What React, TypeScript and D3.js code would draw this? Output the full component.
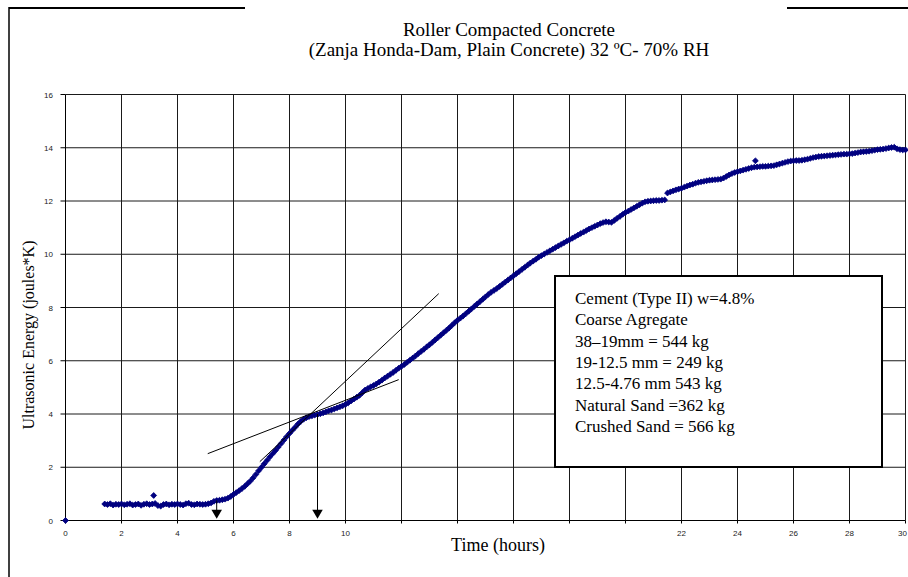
import React from "react";
import * as d3 from "d3";

// ---- data ----
const titleLines = ["Roller Compacted Concrete", "(Zanja Honda-Dam, Plain Concrete) 32 ºC- 70% RH"];
const xAxisTitle = "Time (hours)";
const yAxisTitle = "Ultrasonic Energy  (joules*K)";
const xTicks = [0, 2, 4, 6, 8, 10, 12, 14, 16, 18, 20, 22, 24, 26, 28, 30];
const xTickLabels = [0, 2, 4, 6, 8, 10, 22, 24, 26, 28, 30];
const yTicks = [0, 2, 4, 6, 8, 10, 12, 14, 16];

// measurements sampled every 0.1 h starting at 1.4 h
const sampleStart = 1.4;
const sampleStep = 0.1;
const energy = [
  0.62, 0.60, 0.63, 0.58, 0.61, 0.60,
  0.62, 0.59, 0.61, 0.63, 0.58, 0.60, 0.62, 0.57, 0.61, 0.63,
  0.60, 0.62, 0.64, 0.56, 0.54, 0.60, 0.62, 0.59, 0.61, 0.60,
  0.62, 0.60, 0.58, 0.63, 0.65, 0.60, 0.59, 0.62, 0.61, 0.60,
  0.61, 0.63, 0.66, 0.72, 0.75, 0.76, 0.78, 0.80, 0.84, 0.90,
  0.98, 1.05, 1.12, 1.20, 1.28, 1.38, 1.48, 1.60, 1.73, 1.87,
  2.00, 2.13, 2.26, 2.39, 2.51, 2.63, 2.76, 2.89, 3.02, 3.15,
  3.27, 3.39, 3.50, 3.62, 3.72, 3.80, 3.86, 3.90, 3.93, 3.96,
  3.98, 4.01, 4.04, 4.08, 4.12, 4.15, 4.19, 4.23, 4.27, 4.31,
  4.36, 4.42, 4.49, 4.56, 4.63, 4.70, 4.80, 4.90, 4.96, 5.02,
  5.07, 5.13, 5.20, 5.27, 5.35, 5.42, 5.49, 5.56, 5.64, 5.72,
  5.79, 5.86, 5.94, 6.02, 6.10, 6.18, 6.27, 6.35, 6.43, 6.52,
  6.60, 6.69, 6.78, 6.87, 6.96, 7.05, 7.14, 7.23, 7.33, 7.43,
  7.52, 7.60, 7.68, 7.77, 7.86, 7.95, 8.04, 8.13, 8.22, 8.31,
  8.40, 8.49, 8.57, 8.64, 8.71, 8.79, 8.87, 8.95, 9.03, 9.11,
  9.19, 9.27, 9.35, 9.43, 9.51, 9.59, 9.67, 9.74, 9.81, 9.89,
  9.95, 10.01, 10.07, 10.13, 10.19, 10.25, 10.31, 10.37, 10.43, 10.49,
  10.54, 10.60, 10.66, 10.72, 10.78, 10.83, 10.89, 10.95, 11.00, 11.05,
  11.10, 11.15, 11.19, 11.22, 11.21, 11.20, 11.27, 11.35, 11.42, 11.50,
  11.57, 11.62, 11.68, 11.74, 11.80, 11.86, 11.92, 11.97, 11.99, 12.00,
  12.01, 12.02, 12.02, 12.03, 12.04, 12.30, 12.34, 12.38, 12.42, 12.45,
  12.48, 12.52, 12.56, 12.60, 12.63, 12.67, 12.70, 12.72, 12.74, 12.76,
  12.78, 12.79, 12.80, 12.81, 12.82, 12.86, 12.92, 12.98, 13.03, 13.07,
  13.10, 13.13, 13.16, 13.19, 13.22, 13.25, 13.27, 13.28, 13.29, 13.30,
  13.30, 13.31, 13.32, 13.33, 13.36, 13.39, 13.42, 13.45, 13.48, 13.50,
  13.51, 13.52, 13.52, 13.53, 13.55, 13.57, 13.60, 13.63, 13.65, 13.67,
  13.68, 13.69, 13.70, 13.71, 13.72, 13.73, 13.74, 13.75, 13.76, 13.76,
  13.77, 13.78, 13.80, 13.82, 13.84, 13.85, 13.86, 13.87, 13.89, 13.91,
  13.93, 13.94, 13.95, 13.97, 13.99, 14.01, 14.02, 13.96, 13.93, 13.92,
  13.92,
];
// isolated readings
const extraTimes = [0, 3.15, 24.64];
const extraEnergy = [0, 0.94, 13.51];

// tangent lines [t1, e1, t2, e2]
const tangentLines = [
  [6.94, 2.21, 13.33, 8.52],
  [5.08, 2.51, 11.9, 5.29],
];
// arrows marking set times
const arrowTimes = [5.4, 9.0];
const arrowFrom = [0.75, 4.0];
const arrowTo = [0.14, 0.14];

const noteLines = [
  "Cement (Type II) w=4.8%",
  "Coarse Agregate",
  "38\u201319mm = 544 kg",
  "19-12.5 mm = 249 kg",
  "12.5-4.76 mm 543 kg",
  "Natural Sand =362 kg",
  "Crushed Sand = 566 kg",
];

// ---- layout ----
const W = 908;
const H = 577;
const serif = "'Liberation Serif', 'Times New Roman', Times, serif";
const sans = "'Liberation Sans', Arial, sans-serif";

export default function App() {
  const x = d3.scaleLinear().domain([0, 30]).range([65.5, 905.5]);
  const y = d3.scaleLinear().domain([0, 16]).range([520.5, 94.5]);

  const points = energy.map((e, i) => ({
    t: Math.round((sampleStart + i * sampleStep) * 10) / 10,
    e,
  }));
  extraTimes.forEach((t, i) => points.push({ t, e: extraEnergy[i] }));

  const marker = d3.symbol().type(d3.symbolSquare).size(17)() as string;
  const lineGen = d3.line<[number, number]>().x((d) => x(d[0])).y((d) => y(d[1]));
  const head = d3.symbol().type(d3.symbolTriangle).size(48)() as string;

  return (
    <div style={{ position: "absolute", left: 0, top: 0 }}>
      <svg width={W} height={H} style={{ display: "block", background: "#fff" }}>
        {/* frame fragments */}
        <line x1={9} y1={8} x2={245} y2={8} stroke="#000" strokeWidth={2} />
        <line x1={787} y1={8} x2={908} y2={8} stroke="#000" strokeWidth={2} />
        <line x1={9} y1={7} x2={9} y2={577} stroke="#000" strokeWidth={1.5} />

        {/* title */}
        {titleLines.map((t, i) => (
          <text key={i} x={509} y={36 + i * 20} textAnchor="middle" fontFamily={serif} fontSize={19}>
            {t}
          </text>
        ))}

        {/* gridlines */}
        {xTicks.filter((t) => t > 0).map((t) => (
          <line key={"gx" + t} x1={x(t)} x2={x(t)} y1={y(16)} y2={y(0)} stroke="#1a1a1a" strokeWidth={1} />
        ))}
        {yTicks.filter((t) => t > 0).map((t) => (
          <line key={"gy" + t} x1={x(0)} x2={x(30)} y1={y(t)} y2={y(t)} stroke="#1a1a1a" strokeWidth={1} />
        ))}

        {/* axes */}
        <line x1={x(0)} x2={x(0)} y1={y(16)} y2={y(0)} stroke="#000" />
        <line x1={x(0)} x2={x(30)} y1={y(0)} y2={y(0)} stroke="#000" />
        {yTicks.map((t) => (
          <g key={"yt" + t}>
            <line x1={x(0) - 5} x2={x(0)} y1={y(t)} y2={y(t)} stroke="#000" />
            <text x={53} y={y(t) + 3} textAnchor="end" fontFamily={sans} fontSize={8} fill="#222">
              {t}
            </text>
          </g>
        ))}
        {xTicks.map((t) => (
          <line key={"xt" + t} x1={x(t)} x2={x(t)} y1={y(0)} y2={y(0) + 3} stroke="#000" />
        ))}
        {xTickLabels.map((t, i) => {
          const last = i === xTickLabels.length - 1;
          return (
            <text
              key={"xl" + t}
              x={last ? W - 1 : x(t)}
              y={536}
              textAnchor={last ? "end" : "middle"}
              fontFamily={sans}
              fontSize={8}
              fill="#222"
            >
              {t}
            </text>
          );
        })}

        {/* axis titles */}
        <text x={498} y={551} textAnchor="middle" fontFamily={serif} fontSize={18}>
          {xAxisTitle}
        </text>
        <text transform="translate(34,335) rotate(-90)" textAnchor="middle" fontFamily={serif} fontSize={16}>
          {yAxisTitle}
        </text>

        {/* data */}
        {points.map((p, i) => (
          <path
            key={"p" + i}
            d={marker}
            transform={`translate(${x(p.t)},${y(p.e)}) rotate(45)`}
            fill="#000080"
            stroke="#000080"
            strokeWidth={0.8}
          />
        ))}

        {/* tangent lines */}
        {tangentLines.map((l, i) => (
          <path
            key={"tl" + i}
            d={lineGen([[l[0], l[1]], [l[2], l[3]]]) as string}
            stroke="#000"
            strokeWidth={1}
            fill="none"
          />
        ))}

        {/* arrows */}
        {arrowTimes.map((t, i) => (
          <g key={"ar" + i}>
            <line x1={x(t)} x2={x(t)} y1={y(arrowFrom[i])} y2={y(arrowTo[i]) - 5} stroke="#000" strokeWidth={1} />
            <path d={head} transform={`translate(${x(t)},${y(arrowTo[i]) - 4}) rotate(180)`} fill="#000" />
          </g>
        ))}

        {/* note box */}
        <rect x={555} y={276} width={327} height={191} fill="#fff" stroke="#000" strokeWidth={2} />
        {noteLines.map((s, i) => (
          <text key={"n" + i} x={575} y={304 + i * 21.3} fontFamily={serif} fontSize={17}>
            {s}
          </text>
        ))}
      </svg>
    </div>
  );
}
